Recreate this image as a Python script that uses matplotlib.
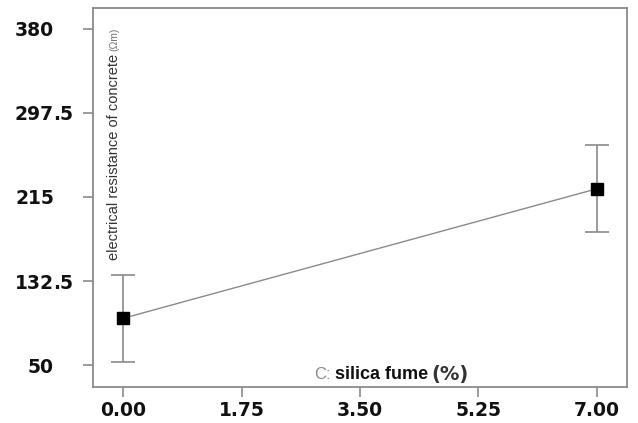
import matplotlib
matplotlib.use("Agg")
import matplotlib.pyplot as plt
import matplotlib.transforms as mtransforms

# Silica fume content (%) and mean electrical resistance (Ωm) with error half-widths
silica_fume = [0.0, 7.0]
resistance = [95.9, 223.1]
error = [42.5, 42.5]

x_ticks = [0.00, 1.75, 3.50, 5.25, 7.00]
x_tick_labels = ["0.00", "1.75", "3.50", "5.25", "7.00"]
y_ticks = [50, 132.5, 215, 297.5, 380]
y_tick_labels = ["50", "132.5", "215", "297.5", "380"]

plt.rcParams["font.family"] = ["Liberation Sans", "DejaVu Sans"]

W, H = 638, 423
fig = plt.figure(figsize=(W / 100, H / 100), dpi=100)
ax = fig.add_axes([93 / W, 1 - 386.7 / H, (627.3 - 93) / W, (386.7 - 8.3) / H])

grey = "#8a8a8a"
ax.plot(silica_fume, resistance, color=grey, lw=1.0, zorder=2)
ax.errorbar(silica_fume, resistance, yerr=error, fmt="none", ecolor=grey,
            elinewidth=1.2, capsize=8.5, capthick=1.2, zorder=2)
ax.plot(silica_fume, resistance, "s", color="black", markersize=8, zorder=3)

ax.set_xlim(-0.447, 7.449)
ax.set_ylim(28.7, 400.3)
ax.set_xticks(x_ticks)
ax.set_xticklabels(x_tick_labels)
ax.set_yticks(y_ticks)
ax.set_yticklabels([])

for s in ax.spines.values():
    s.set_color(grey)
    s.set_linewidth(1.3)

ax.tick_params(axis="both", direction="out", length=7, width=1.2, color=grey,
               labelsize=13.5)
ax.tick_params(axis="x", pad=3)
for lab in ax.get_xticklabels():
    lab.set_fontfamily("DejaVu Sans")
    lab.set_fontweight("bold")
    lab.set_color("#111111")

# y tick labels aligned on the decimal point
ytrans = mtransforms.blended_transform_factory(fig.transFigure, ax.transData)
label_style = dict(fontsize=13.5, fontweight="bold", family="DejaVu Sans",
                   color="#111111", va="center_baseline")
for val, txt in zip(y_ticks, y_tick_labels):
    whole, _, frac = txt.partition(".")
    fig.text(54 / W, val, whole, ha="right", transform=ytrans, **label_style)
    if frac:
        fig.text(53 / W, val, "." + frac, ha="left", transform=ytrans, **label_style)

# Axis titles drawn inside the plot area (positions in figure pixels)
def px(x, y):
    return (x / W, 1 - y / H)

fig.text(*px(114, 260), "electrical resistance of concrete", rotation=90,
         rotation_mode="anchor", ha="left", va="center", fontsize=10.5,
         color="#333333")
fig.text(*px(114, 51), "(Ωm)", rotation=90, rotation_mode="anchor",
         ha="left", va="center", fontsize=7.5, color="#777777")

fig.text(*px(314, 374), "C:", ha="left", va="center", fontsize=12,
         color="#8a8a8a")
fig.text(*px(335, 374), "silica fume", ha="left", va="center", fontsize=13,
         fontweight="bold", color="#111111")
fig.text(*px(431, 374), "(%)", ha="left", va="center", fontsize=14,
         fontweight="bold", family="DejaVu Sans", color="#333333")

fig.savefig("out.png", dpi=100)
